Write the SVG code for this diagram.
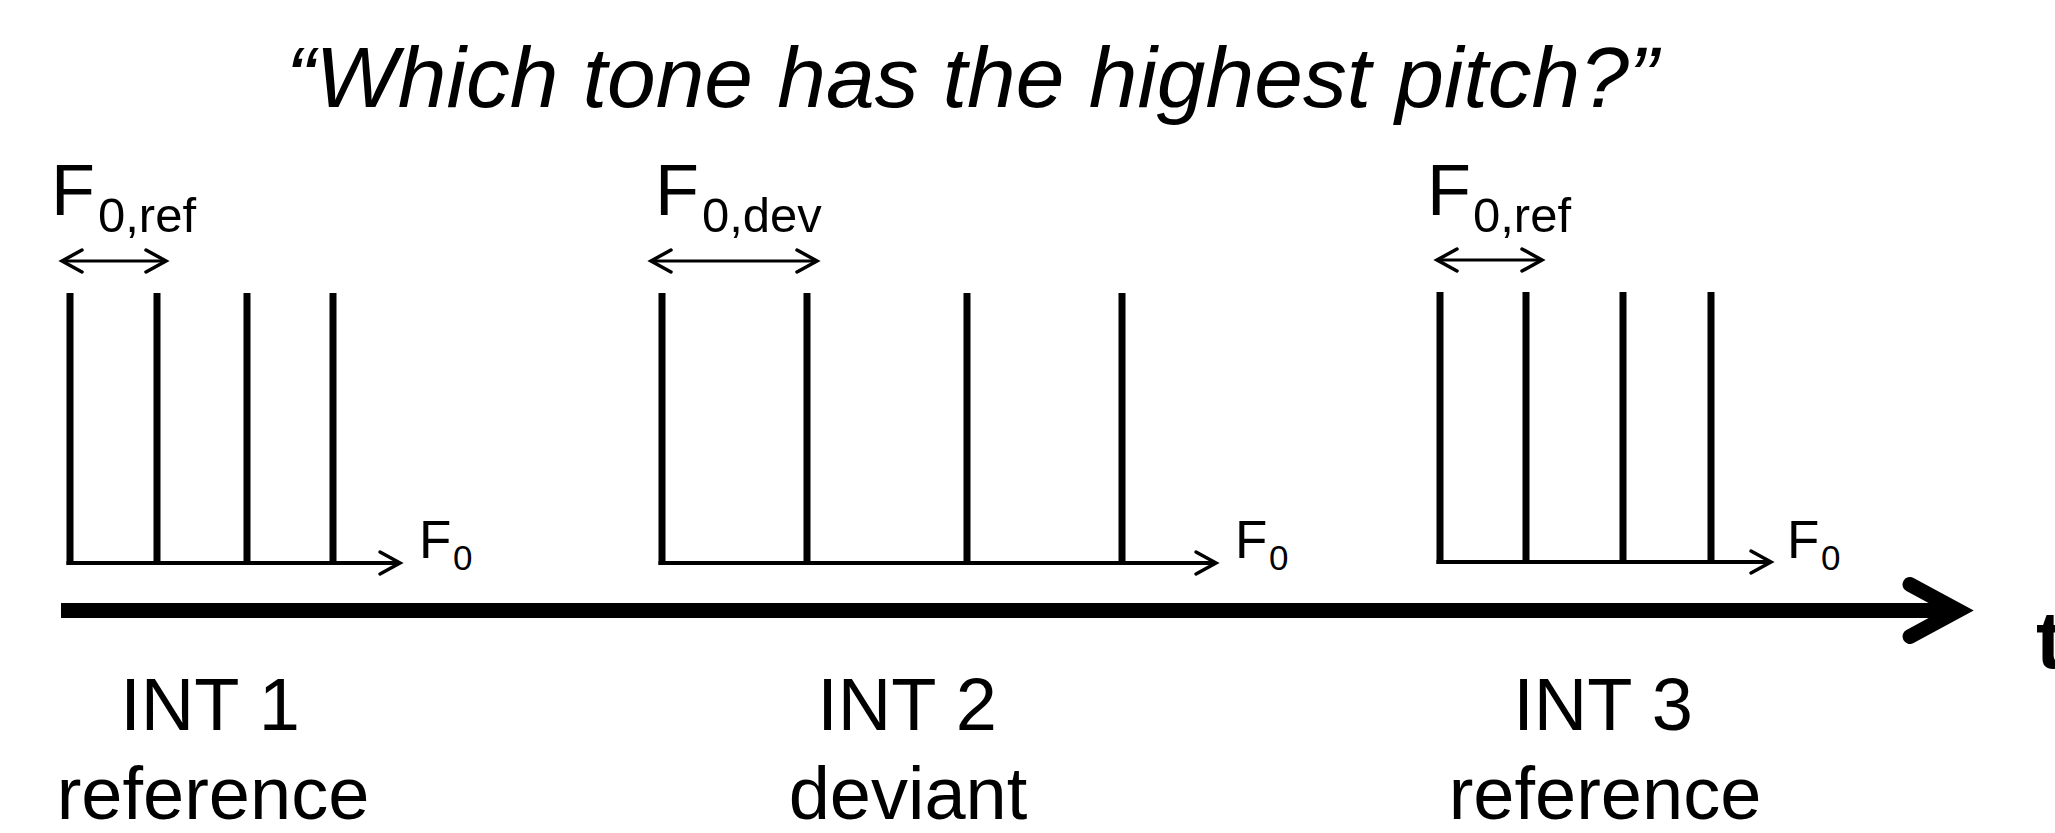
<svg xmlns="http://www.w3.org/2000/svg" width="2055" height="833" viewBox="0 0 2055 833">
  <style>
    text { font-family: "Liberation Sans", Arial, sans-serif; fill: #000; }
    .title { font-size: 86px; font-style: italic; }
    .fmain { font-size: 72px; }
    .fsub { font-size: 49px; }
    .amain { font-size: 53px; }
    .asub { font-size: 35px; }
    .lab { font-size: 74px; text-anchor: middle; }
    .tlab { font-size: 82px; font-weight: bold; }
    .bar { stroke: #000; stroke-width: 7; }
    .axis { stroke: #000; stroke-width: 4; fill: none; marker-end: url(#chev); }
    .span { stroke: #000; stroke-width: 3; fill: none; marker-start: url(#chev); marker-end: url(#chev); }
    .time { stroke: #000; stroke-width: 15; fill: none; marker-end: url(#bigchev); }
  </style>
  <defs>
    <!-- open chevron head for the thin frequency axes and spacing arrows -->
    <marker id="chev" markerUnits="userSpaceOnUse" orient="auto-start-reverse" markerWidth="1" markerHeight="1" refX="0" refY="0" style="overflow:visible">
      <path d="M-20,-11 L0,0 L-20,11" fill="none" stroke="#000" stroke-width="3.5" stroke-linecap="round" stroke-linejoin="miter"/>
    </marker>
    <!-- heavy chevron head for the time axis -->
    <marker id="bigchev" markerUnits="userSpaceOnUse" orient="auto" markerWidth="1" markerHeight="1" refX="0" refY="0" style="overflow:visible">
      <path d="M-48,-26 L0,0 L-48,26" fill="none" stroke="#000" stroke-width="15" stroke-linecap="round" stroke-linejoin="miter" stroke-miterlimit="10"/>
    </marker>
  </defs>

  <text class="title" x="286" y="107" textLength="1372" lengthAdjust="spacingAndGlyphs">“Which tone has the highest pitch?”</text>

  <!-- interval 1: reference tone -->
  <g id="int1">
    <text x="51" y="215"><tspan class="fmain">F</tspan><tspan class="fsub" x="98" y="232">0,ref</tspan></text>
    <line class="span" x1="62" y1="261" x2="166" y2="261"/>
    <line class="bar" x1="70" y1="293" x2="70" y2="565"/>
    <line class="bar" x1="157" y1="293" x2="157" y2="565"/>
    <line class="bar" x1="247" y1="293" x2="247" y2="565"/>
    <line class="bar" x1="333" y1="293" x2="333" y2="565"/>
    <line class="axis" x1="66.5" y1="563" x2="400" y2="563"/>
    <text x="419" y="558"><tspan class="amain">F</tspan><tspan class="asub" x="453" y="570">0</tspan></text>
    <text class="lab" x="210" y="730">INT 1</text>
    <text class="lab" x="213" y="819">reference</text>
  </g>

  <!-- interval 2: deviant tone -->
  <g id="int2">
    <text x="655" y="215"><tspan class="fmain">F</tspan><tspan class="fsub" x="702" y="232">0,dev</tspan></text>
    <line class="span" x1="651" y1="261" x2="817" y2="261"/>
    <line class="bar" x1="662" y1="293" x2="662" y2="565"/>
    <line class="bar" x1="807" y1="293" x2="807" y2="565"/>
    <line class="bar" x1="967" y1="293" x2="967" y2="565"/>
    <line class="bar" x1="1122" y1="293" x2="1122" y2="565"/>
    <line class="axis" x1="658.5" y1="563" x2="1216" y2="563"/>
    <text x="1235" y="558"><tspan class="amain">F</tspan><tspan class="asub" x="1269" y="570">0</tspan></text>
    <text class="lab" x="907" y="730">INT 2</text>
    <text class="lab" x="908" y="819">deviant</text>
  </g>

  <!-- interval 3: reference tone -->
  <g id="int3">
    <text x="1427" y="215"><tspan class="fmain">F</tspan><tspan class="fsub" x="1473" y="232">0,ref</tspan></text>
    <line class="span" x1="1437" y1="260" x2="1542" y2="260"/>
    <line class="bar" x1="1440" y1="292" x2="1440" y2="564"/>
    <line class="bar" x1="1526" y1="292" x2="1526" y2="564"/>
    <line class="bar" x1="1623" y1="292" x2="1623" y2="564"/>
    <line class="bar" x1="1711" y1="292" x2="1711" y2="564"/>
    <line class="axis" x1="1436.5" y1="562" x2="1771" y2="562"/>
    <text x="1787" y="558"><tspan class="amain">F</tspan><tspan class="asub" x="1821" y="570">0</tspan></text>
    <text class="lab" x="1603" y="730">INT 3</text>
    <text class="lab" x="1605" y="819">reference</text>
  </g>

  <!-- time axis -->
  <g id="connectors">
    <line class="time" x1="61" y1="610.5" x2="1958" y2="610.5"/>
  </g>
  <g id="time-label">
    <text class="tlab" x="2036" y="668">t</text>
  </g>
</svg>
